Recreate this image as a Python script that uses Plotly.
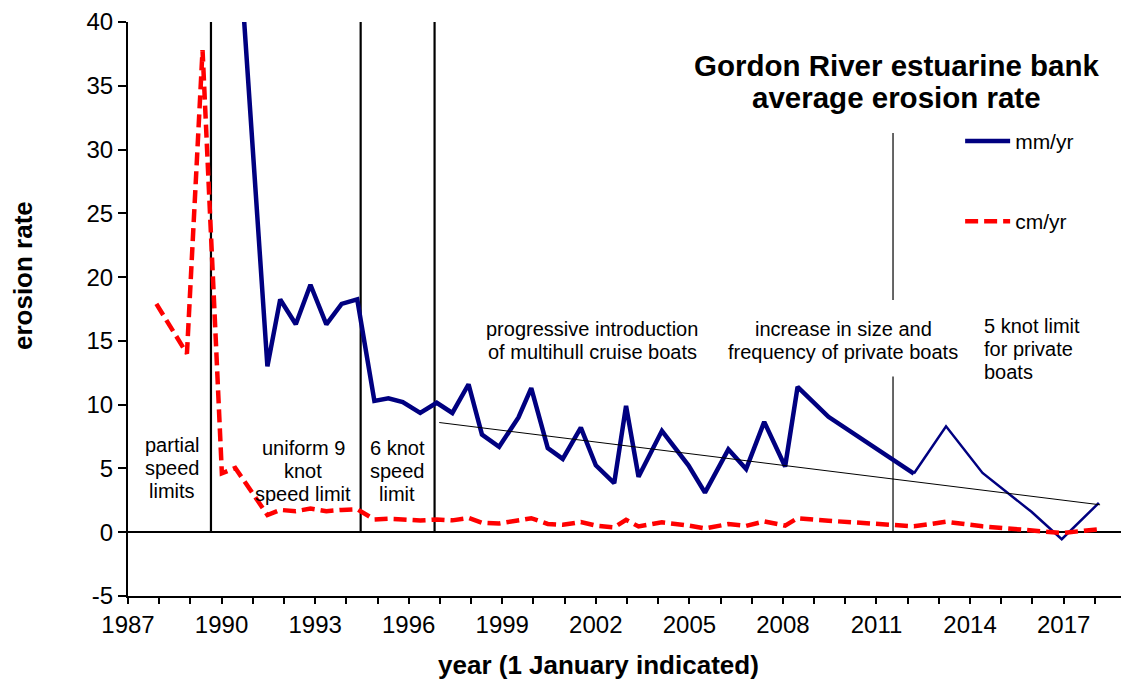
import plotly.graph_objects as go

# Survey dates (decimal year) and bank erosion rates
years = [1987.91, 1988.89, 1989.39, 1990.01, 1990.44, 1991.47, 1991.88, 1992.38,
         1992.85, 1993.36, 1993.85, 1994.35, 1994.90, 1995.35, 1995.81, 1996.37,
         1996.90, 1997.40, 1997.92, 1998.35, 1998.90, 1999.52, 1999.93, 2000.46,
         2000.94, 2001.52, 2002.00, 2002.59, 2002.97, 2003.37, 2004.12, 2004.97,
         2005.50, 2006.25, 2006.82, 2007.40, 2008.07, 2008.47, 2009.46, 2012.20,
         2013.23, 2014.40, 2015.97, 2016.94, 2018.13]

mm_yr = [None, None, None, 46.2, 50.4, 13.0, 18.25, 16.3,
         19.4, 16.3, 17.9, 18.25, 10.3, 10.5, 10.2, 9.35,
         10.15, 9.35, 11.6, 7.65, 6.7, 9.0, 11.3, 6.6,
         5.75, 8.2, 5.25, 3.85, 9.9, 4.35, 7.95, 5.25,
         3.1, 6.5, 4.95, 8.65, 5.15, 11.4, 9.05, 4.6,
         8.3, 4.65, 1.6, -0.55, 2.3]

cm_yr = [17.9, 14.0, 37.8, 4.62, 5.04, 1.35, 1.75, 1.65,
         1.85, 1.65, 1.75, 1.8, 1.0, 1.05, 1.0, 0.92,
         1.0, 0.93, 1.12, 0.75, 0.68, 0.88, 1.1, 0.65,
         0.58, 0.8, 0.52, 0.38, 0.97, 0.45, 0.78, 0.52,
         0.3, 0.64, 0.5, 0.85, 0.52, 1.1, 0.9, 0.46,
         0.82, 0.46, 0.16, -0.06, 0.23]

# mm/yr drawn heavy up to this survey, lighter afterwards
heavy_until = 2012.20

# Linear trend of mm/yr since 1997
trend_x = [1996.98, 2018.17]
trend_y = [8.6, 2.15]

# Axis ticks (plain hyphen for negatives)
y_ticks = [-5, 0, 5, 10, 15, 20, 25, 30, 35, 40]
y_tick_text = ["-5", "0", "5", "10", "15", "20", "25", "30", "35", "40"]

# Management change dates
regime_dates = [1989.66, 1994.46, 1996.83]
private_limit_date = 2011.53
private_limit_spans = [(18.2, 31.3), (0, 12.2)]

# Period labels: (x, y of first line, lines, alignment)
period_labels = [
    (1988.42, 6.85, ["partial", "speed", "limits"], "center"),
    (1992.62, 6.6, ["uniform 9", "knot", "speed limit"], "center"),
    (1995.63, 6.6, ["6 knot", "speed", "limit"], "center"),
    (2001.88, 15.95, ["progressive introduction", "of multihull cruise boats"], "center"),
    (2009.93, 15.95, ["increase in size and", "frequency of private boats"], "center"),
    (2014.38, 16.2, ["5 knot limit", "for private", "boats"], "left"),
]

FONT = "Arial, Liberation Sans, sans-serif"
NAVY = "#000080"
RED = "#ff0000"

k = years.index(heavy_until)

fig = go.Figure()

fig.add_trace(go.Scatter(
    x=years[:k + 1], y=mm_yr[:k + 1], mode="lines", name="mm/yr",
    line=dict(color=NAVY, width=4.5), legendgroup="mm", connectgaps=False,
))
fig.add_trace(go.Scatter(
    x=years[k:], y=mm_yr[k:], mode="lines", name="mm/yr",
    line=dict(color=NAVY, width=2.5), showlegend=False, legendgroup="mm",
))
fig.add_trace(go.Scatter(
    x=years, y=cm_yr, mode="lines", name="cm/yr",
    line=dict(color=RED, width=4.5, dash="13px,6px"), legendgroup="cm",
))
fig.add_trace(go.Scatter(
    x=trend_x, y=trend_y, mode="lines", showlegend=False,
    line=dict(color="black", width=1),
))

for d in regime_dates:
    fig.add_shape(type="line", x0=d, x1=d, y0=0, y1=40, xref="x", yref="y",
                  line=dict(color="black", width=2.2), layer="below")
for lo, hi in private_limit_spans:
    fig.add_shape(type="line", x0=private_limit_date, x1=private_limit_date,
                  y0=lo, y1=hi, xref="x", yref="y",
                  line=dict(color="black", width=1.2), layer="below")

annotations = []
for x, y, lines, align in period_labels:
    for i, t in enumerate(lines):
        annotations.append(dict(
            x=x, y=y, xref="x", yref="y", text=t, showarrow=False,
            xanchor=align, yanchor="middle", yshift=-23 * i,
            font=dict(family=FONT, size=20, color="black"),
        ))

# Chart title
for txt, py in [("<b>Gordon River estuarine bank</b>", 0.925),
                ("<b>average erosion rate</b>", 0.8676)]:
    annotations.append(dict(
        x=0.7744, y=py, xref="paper", yref="paper", text=txt, showarrow=False,
        xanchor="center", yanchor="middle",
        font=dict(family=FONT, size=29.5, color="black"),
    ))

# Axis titles
annotations.append(dict(
    x=0.4743, y=-0.1202, xref="paper", yref="paper",
    text="<b>year (1 January indicated)</b>", showarrow=False,
    xanchor="center", yanchor="middle",
    font=dict(family=FONT, size=26, color="black"),
))
annotations.append(dict(
    x=-0.1057, y=0.5575, xref="paper", yref="paper",
    text="<b>erosion rate</b>", showarrow=False, textangle=-90,
    xanchor="center", yanchor="middle",
    font=dict(family=FONT, size=26, color="black"),
))

fig.update_layout(
    width=1121, height=682,
    margin=dict(l=128, r=0, t=22, b=86),
    paper_bgcolor="white", plot_bgcolor="white",
    font=dict(family=FONT, size=24, color="black"),
    annotations=annotations,
    showlegend=True,
    legend=dict(
        x=0.838, y=0.828, xanchor="left", yanchor="top",
        bgcolor="rgba(0,0,0,0)", font=dict(family=FONT, size=21),
        tracegroupgap=50, itemwidth=45,
    ),
    xaxis=dict(
        range=[1987, 2018.84], tick0=1987, dtick=3,
        ticks="outside", ticklen=6, tickwidth=1.5, tickcolor="black",
        showgrid=False, zeroline=False,
        showline=True, linecolor="black", linewidth=1.5,
        minor=dict(dtick=1, ticks="outside", ticklen=6, tickwidth=1.5,
                   tickcolor="black", showgrid=False),
        tickfont=dict(family=FONT, size=24),
        anchor="y",
    ),
    yaxis=dict(
        range=[-5, 40], tickmode="array", tickvals=y_ticks, ticktext=y_tick_text,
        ticks="outside", ticklen=8, tickwidth=1.5, tickcolor="black",
        showgrid=False, zeroline=True, zerolinecolor="black", zerolinewidth=1.5,
        showline=True, linecolor="black", linewidth=2,
        tickfont=dict(family=FONT, size=24),
    ),
)

fig.write_html("out.html")
